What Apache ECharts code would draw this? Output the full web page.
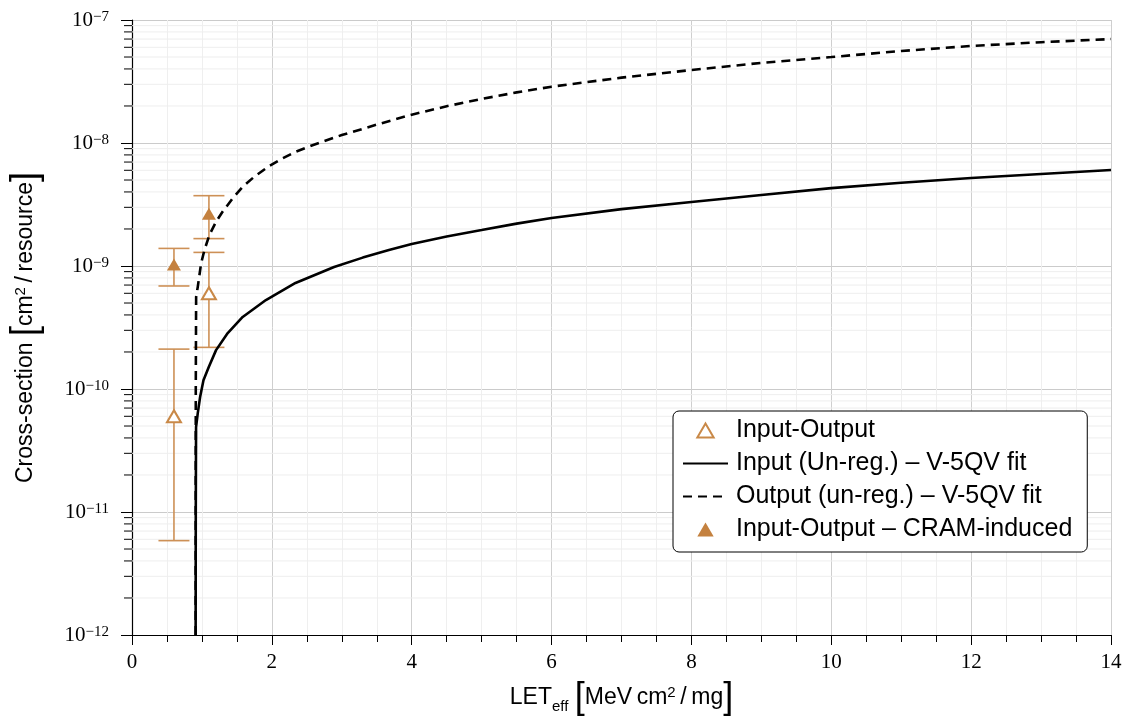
<!DOCTYPE html>
<html>
<head>
<meta charset="utf-8">
<script src="https://cdn.jsdelivr.net/npm/echarts@6/dist/echarts.min.js"></script>
<style>
html,body{margin:0;padding:0;background:#fff;}
#chart{width:1126px;height:722px;}
</style>
</head>
<body>
<div id="chart"></div>
<script>
// ---- data ----
const X_MIN = 0, X_MAX = 14, X_INTERVAL = 2;
const Y_MIN = 1e-12, Y_MAX = 1e-7;
const yTickValues = [1e-12, 1e-11, 1e-10, 1e-9, 1e-8, 1e-7];
const yTickExponents = ['\u221212', '\u221211', '\u221210', '\u22129', '\u22128', '\u22127'];
const minorFactors = [2, 3, 4, 5, 6, 7, 8, 9];

// Input-Output (hollow triangles): [LET, sigma]
const ioPoints = [[0.6, 6.0e-11], [1.1, 6.0e-10]];
// error bars: [LET, low, high]
const ioErrors = [[0.6, 5.85e-12, 2.11e-10], [1.1, 2.18e-10, 1.29e-9]];

// Input-Output - CRAM-induced (filled triangles)
const cramPoints = [[0.6, 1.03e-9], [1.1, 2.66e-9]];
const cramErrors = [[0.6, 6.88e-10, 1.39e-9], [1.1, 1.67e-9, 3.73e-9]];

// Input (Un-reg.) - V-5QV fit (solid)
const inputFit = [
  [0.910, 1e-12], [0.912, 1e-11], [0.916, 4.9e-11], [0.941, 6.4e-11], [0.974, 8.6e-11],
  [1.022, 1.18e-10], [1.098, 1.51e-10], [1.202, 2.07e-10], [1.369, 2.85e-10],
  [1.583, 3.85e-10], [1.915, 5.29e-10], [2.338, 7.28e-10], [2.890, 9.82e-10],
  [3.3, 1.17e-9], [3.674, 1.35e-9], [4.0, 1.51e-9], [4.5, 1.74e-9], [5.0, 1.96e-9],
  [5.5, 2.21e-9], [6.0, 2.46e-9], [7.0, 2.90e-9],
  [8.0, 3.31e-9], [9.0, 3.78e-9], [10.0, 4.30e-9], [11.0, 4.75e-9], [12.0, 5.20e-9],
  [13.0, 5.60e-9], [14.0, 6.03e-9]
];

// Output (un-reg.) - V-5QV fit (dashed)
const outputFit = [
  [0.910, 1e-12], [0.912, 1e-10], [0.917, 5.6e-10], [0.941, 6.8e-10], [0.988, 1.05e-9],
  [1.036, 1.35e-9], [1.108, 1.79e-9], [1.202, 2.29e-9], [1.297, 2.77e-9],
  [1.440, 3.55e-9], [1.583, 4.41e-9], [1.749, 5.32e-9], [1.963, 6.5e-9],
  [2.153, 7.5e-9], [2.342, 8.5e-9], [2.581, 9.6e-9], [3.0, 1.16e-8], [3.5, 1.41e-8],
  [4.0, 1.70e-8], [4.5, 1.99e-8], [5.0, 2.28e-8], [5.5, 2.58e-8], [6.0, 2.87e-8],
  [7.0, 3.40e-8], [8.0, 3.92e-8],
  [9.0, 4.48e-8], [10.0, 5.0e-8], [11.0, 5.6e-8], [12.0, 6.15e-8], [13.0, 6.6e-8],
  [14.0, 7.0e-8]
];

const seriesNames = [
  'Input-Output',
  'Input (Un-reg.) \u2013 V-5QV fit',
  'Output (un-reg.) \u2013 V-5QV fit',
  'Input-Output \u2013 CRAM-induced'
];

// ---- styling ----
const C_HOLLOW = '#C98948';
const C_FILLED = '#C4813F';
const C_ERR = '#CD9056';
const SANS = "'Liberation Sans', Arial, Helvetica, sans-serif";
const SERIF = "'Liberation Serif', 'Times New Roman', serif";
const TRI_ICON = 'path://M7,0 L14,12 L0,12 Z';

// minor y grid values (2..9 per decade)
const minorY = [];
for (let i = 0; i < yTickValues.length - 1; i++) {
  minorFactors.forEach(f => minorY.push([X_MIN, f * yTickValues[i]]));
}

function errorBarRender(color) {
  return function (params, api) {
    const x = api.value(0), lo = api.value(1), hi = api.value(2);
    const pLo = api.coord([x, lo]);
    const pHi = api.coord([x, hi]);
    const hw = 15.5;
    const st = { stroke: color, lineWidth: 1.6 };
    return {
      type: 'group',
      children: [
        { type: 'line', shape: { x1: pLo[0], y1: pLo[1], x2: pHi[0], y2: pHi[1] }, style: st },
        { type: 'line', shape: { x1: pLo[0] - hw, y1: pLo[1], x2: pLo[0] + hw, y2: pLo[1] }, style: st },
        { type: 'line', shape: { x1: pHi[0] - hw, y1: pHi[1], x2: pHi[0] + hw, y2: pHi[1] }, style: st }
      ]
    };
  };
}

const chart = echarts.init(document.getElementById('chart'), null, { renderer: 'canvas' });

const option = {
  animation: false,
  backgroundColor: '#fff',
  grid: { left: 129, right: 15, top: 20, bottom: 87, containLabel: false },
  legend: {
    orient: 'vertical',
    left: 673,
    top: 411,
    padding: [7, 15, 10, 9],
    itemWidth: 45,
    itemHeight: 14,
    itemGap: 8,
    symbolKeepAspect: true,
    backgroundColor: '#fff',
    borderColor: '#000',
    borderWidth: 1,
    borderRadius: 6,
    textStyle: { fontFamily: SANS, fontSize: 25, color: '#000', padding: [0, 0, 0, 3] },
    data: [
      { name: seriesNames[0], icon: TRI_ICON, itemStyle: { color: '#fff', borderColor: C_HOLLOW, borderWidth: 2 } },
      { name: seriesNames[1], itemStyle: { color: 'rgba(0,0,0,0)', borderWidth: 0, opacity: 0 } },
      { name: seriesNames[2], itemStyle: { color: 'rgba(0,0,0,0)', borderWidth: 0, opacity: 0 } },
      { name: seriesNames[3], icon: TRI_ICON, itemStyle: { color: C_FILLED, borderWidth: 0 } }
    ]
  },
  xAxis: {
    type: 'value',
    min: X_MIN,
    max: X_MAX,
    interval: X_INTERVAL,
    name: '{t|LET}{s|eff}{t| }{b|[}{t|MeV\u2009cm}{p|2}{t|\u2009/\u2009mg}{b|]}',
    nameLocation: 'middle',
    nameGap: 45,
    nameTextStyle: {
      rich: {
        t: { fontFamily: SANS, fontSize: 23, color: '#000' },
        s: { fontFamily: SANS, fontSize: 15, color: '#000', verticalAlign: 'bottom', padding: [0, 0, 2, 0] },
        p: { fontFamily: SANS, fontSize: 15, color: '#000', verticalAlign: 'top', padding: [5, 0, 0, 0] },
        b: { fontFamily: "'DejaVu Sans ExtraLight', " + SANS, fontSize: 36, color: '#000' }
      }
    },
    axisLine: { show: true, onZero: false, lineStyle: { color: '#000', width: 1.2 } },
    axisTick: { show: true, length: 10, lineStyle: { color: '#000', width: 1 } },
    minorTick: { show: true, splitNumber: 4, length: 7, lineStyle: { color: '#000', width: 1 } },
    splitLine: { show: true, lineStyle: { color: '#cfcfcf', width: 1 } },
    minorSplitLine: { show: true, lineStyle: { color: '#efefef', width: 1 } },
    axisLabel: { fontFamily: SERIF, fontSize: 21, color: '#000', margin: 17 }
  },
  yAxis: {
    type: 'log',
    logBase: 10,
    min: Y_MIN,
    max: Y_MAX,
    name: '{t|Cross-section}{t| }{b|[}{t|cm}{p|2}{t|\u2009/\u2009resource}{b|]}',
    nameLocation: 'middle',
    nameGap: 88,
    nameRotate: 90,
    nameTextStyle: {
      rich: {
        t: { fontFamily: SANS, fontSize: 23, color: '#000' },
        p: { fontFamily: SANS, fontSize: 15, color: '#000', verticalAlign: 'top', padding: [5, 0, 0, 0] },
        b: { fontFamily: "'DejaVu Sans ExtraLight', " + SANS, fontSize: 36, color: '#000' }
      }
    },
    axisLine: { show: true, onZero: false, lineStyle: { color: '#000', width: 1.2 } },
    axisTick: { show: true, length: 11, lineStyle: { color: '#000', width: 1 } },
    splitLine: { show: true, lineStyle: { color: '#cbcbcb', width: 1 } },
    axisLabel: {
      margin: 23,
      formatter: function (v) {
        let idx = -1;
        yTickValues.forEach((t, i) => { if (Math.abs(Math.log10(t) - Math.log10(v)) < 1e-6) idx = i; });
        if (idx < 0) return '';
        return '{b|10}{e|' + yTickExponents[idx] + '}';
      },
      rich: {
        b: { fontFamily: SERIF, fontSize: 21, color: '#000', verticalAlign: 'bottom', lineHeight: 21 },
        e: { fontFamily: SERIF, fontSize: 15, color: '#000', verticalAlign: 'top', lineHeight: 15 }
      },
      lineHeight: 26
    }
  },
  series: [
    {
      name: 'minor-grid',
      type: 'custom',
      silent: true,
      z: 1,
      clip: false,
      encode: { x: 0, y: 1 },
      data: minorY,
      renderItem: function (params, api) {
        const v = api.value(1);
        const p0 = api.coord([X_MIN, v]);
        const p1 = api.coord([X_MAX, v]);
        return {
          type: 'group',
          children: [
            { type: 'line', shape: { x1: p0[0], y1: p0[1], x2: p1[0], y2: p1[1] }, style: { stroke: '#eeeeee', lineWidth: 1 } },
            { type: 'line', shape: { x1: p0[0] - 8, y1: p0[1], x2: p0[0], y2: p0[1] }, style: { stroke: '#000', lineWidth: 1 } }
          ]
        };
      }
    },
    {
      name: 'io-err',
      type: 'custom',
      silent: true,
      z: 3,
      encode: { x: 0, y: [1, 2] },
      data: ioErrors,
      renderItem: errorBarRender(C_ERR)
    },
    {
      name: 'cram-err',
      type: 'custom',
      silent: true,
      z: 3,
      encode: { x: 0, y: [1, 2] },
      data: cramErrors,
      renderItem: errorBarRender(C_ERR)
    },
    {
      name: seriesNames[2],
      type: 'line',
      z: 4,
      data: outputFit,
      showSymbol: false,
      symbol: 'none',
      smooth: false,
      lineStyle: { color: '#000', width: 2.6, type: [9, 6] },
      itemStyle: { color: '#000' }
    },
    {
      name: seriesNames[1],
      type: 'line',
      z: 5,
      data: inputFit,
      showSymbol: false,
      symbol: 'none',
      smooth: false,
      lineStyle: { color: '#000', width: 2.6, type: 'solid' },
      itemStyle: { color: '#000' }
    },
    {
      name: seriesNames[0],
      type: 'scatter',
      z: 6,
      data: ioPoints,
      symbol: 'triangle',
      symbolSize: [14, 12],
      itemStyle: { color: '#fff', borderColor: C_HOLLOW, borderWidth: 2, opacity: 1 }
    },
    {
      name: seriesNames[3],
      type: 'scatter',
      z: 6,
      data: cramPoints,
      symbol: 'triangle',
      symbolSize: [14, 12],
      itemStyle: { color: C_FILLED, opacity: 1 }
    }
  ]
};

chart.setOption(option);
</script>
</body>
</html>
